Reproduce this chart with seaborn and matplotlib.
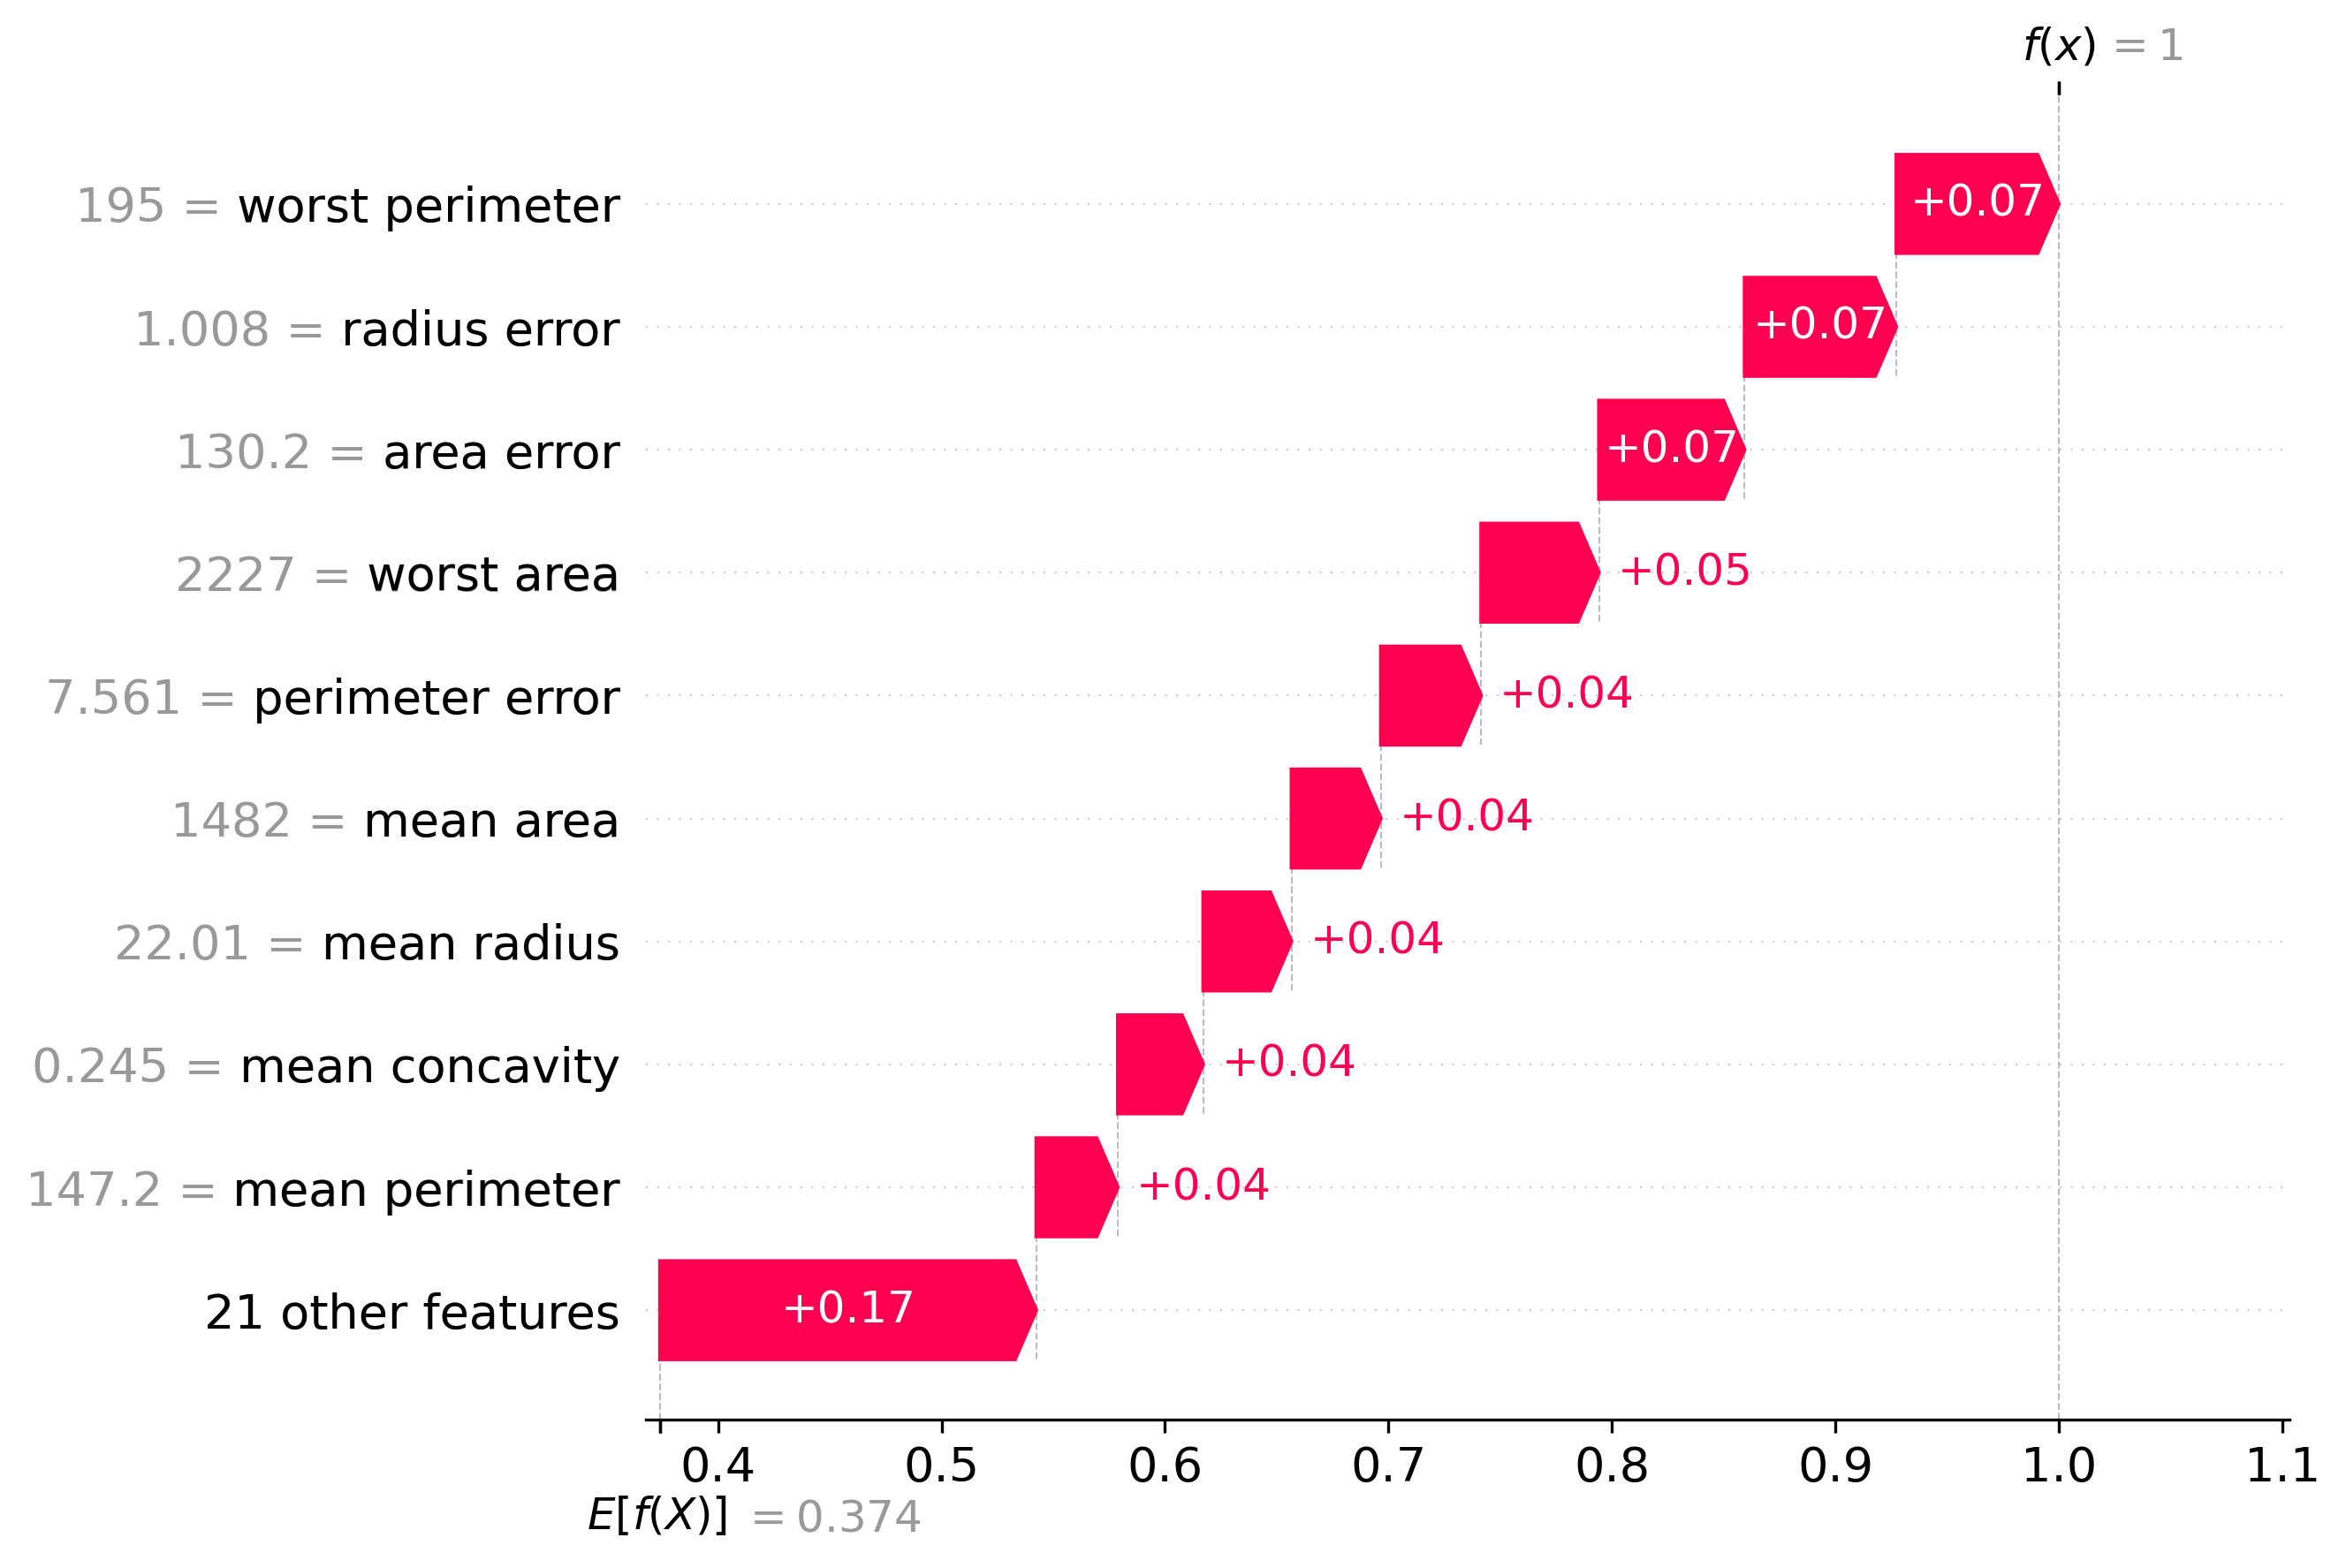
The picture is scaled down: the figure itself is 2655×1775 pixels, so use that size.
import numpy as np
import matplotlib
matplotlib.use("Agg")
import matplotlib.pyplot as plt
import matplotlib.transforms as mtrans
import seaborn as sns

# ---------------- data ----------------
feature_names = ["worst perimeter", "radius error", "area error", "worst area",
                 "perimeter error", "mean area", "mean radius", "mean concavity",
                 "mean perimeter", "21 other features"]
feature_values = ["195", "1.008", "130.2", "2227", "7.561", "1482", "22.01",
                  "0.245", "147.2", None]
shap_values = [0.0727, 0.0679, 0.0652, 0.0527, 0.0449, 0.0400, 0.0395,
               0.0382, 0.0365, 0.1684]
base_value = 0.374
x_ticks = [0.4, 0.5, 0.6, 0.7, 0.8, 0.9, 1.0, 1.1]


def format_value(s, fmt):
    s = fmt % s
    if "." in s:
        s = s.rstrip("0").rstrip(".")
    if s.startswith("-"):
        s = "\u2212" + s[1:]
    return s


sns.set_style("ticks", rc={"axes.edgecolor": "black", "xtick.color": "black",
                           "ytick.color": "black", "text.color": "black",
                           "axes.labelcolor": "black"})
plt.rcParams["font.family"] = ["DejaVu Sans"]

RED = (1.0, 0.0, 0.31796)
GRAY = "#999999"

fig = plt.figure(figsize=(8.85, 5.9167), dpi=300)
ax = fig.add_axes([0.27533, 0.094648, 0.70056, 0.84507])

n = len(feature_names)
rows = np.arange(n)[::-1].astype(float)
fx = base_value + sum(shap_values)

lefts = np.zeros(n)
acc = base_value
for i in range(n - 1, -1, -1):
    lefts[i] = acc
    acc += shap_values[i]

ax.set_xlim(0.3677, 1.1032)
ax.set_ylim(-0.89, n - 1 + 0.89)

bar_width = 0.8
xlen = ax.get_xlim()[1] - ax.get_xlim()[0]
bbox = ax.get_window_extent().transformed(fig.dpi_scale_trans.inverted())
bbox_to_xscale = xlen / bbox.width
hl_scaled = bbox_to_xscale * 0.08

# row guide lines
for r in rows:
    ax.axhline(r, color="#cccccc", lw=0.5, dashes=(1, 5), zorder=-1)

renderer = fig.canvas.get_renderer()
for i in range(n):
    y = rows[i]
    d = shap_values[i]
    arrow_obj = ax.arrow(lefts[i], y, max(d - hl_scaled, 0.000001), 0,
                         head_length=min(d, hl_scaled), color=RED,
                         width=bar_width, head_width=bar_width)
    if i < n - 1:
        ax.plot([lefts[i], lefts[i]], [y + 0.4, y - 1 - 0.4], color="#bbbbbb",
                linestyle="--", linewidth=0.5, zorder=-1)
    txt = ax.text(lefts[i] + 0.5 * d, y, format_value(d, "%+0.02f"),
                  ha="center", va="center", color="white", fontsize=12)
    tb = txt.get_window_extent(renderer=renderer)
    ab = arrow_obj.get_window_extent(renderer=renderer)
    if tb.width > ab.width:
        txt.remove()
        ax.text(lefts[i] + (5 / 72) * bbox_to_xscale + d, y,
                format_value(d, "%+0.02f"), ha="left", va="center",
                color=RED, fontsize=12)

ax.axvline(base_value, 0, 1 / n, color="#bbbbbb", linestyle="--", linewidth=0.5, zorder=-1)
ax.axvline(fx, 0, 1, color="#bbbbbb", linestyle="--", linewidth=0.5, zorder=-1)

# y labels: grey value part with black name overlaid
gray_labels = [f"{v} = {nm}" if v is not None else nm
               for v, nm in zip(feature_values, feature_names)]
black_labels = [lab.split("=")[-1] for lab in gray_labels]
ax.set_yticks(list(rows) + list(rows + 1e-8))
ax.set_yticklabels(gray_labels + black_labels, fontsize=13)
ytl = ax.yaxis.get_majorticklabels()
for i in range(n):
    ytl[i].set_color(GRAY)
ax.yaxis.set_ticks_position("none")

ax.set_xticks(x_ticks)
ax.tick_params(axis="x", labelsize=13)
sns.despine(ax=ax, left=True, top=True, right=True)

# E[f(X)] marker
ax2 = ax.twiny()
ax2.set_xlim(ax.get_xlim())
ax2.xaxis.tick_bottom()
ax2.set_xticks([base_value, base_value + 1e-8])
ax2.set_xticklabels(["\n$E[f(X)]$", "\n$ = " + format_value(base_value, "%0.03f") + "$"],
                    fontsize=12, ha="left")
for sp in ax2.spines.values():
    sp.set_visible(False)
tl2 = ax2.xaxis.get_majorticklabels()
tl2[0].set_transform(tl2[0].get_transform() +
                     mtrans.ScaledTranslation(-20 / 72., 0, fig.dpi_scale_trans))
tl2[1].set_transform(tl2[1].get_transform() +
                     mtrans.ScaledTranslation(22 / 72., -1 / 72., fig.dpi_scale_trans))
tl2[1].set_color(GRAY)

# f(x) marker
ax3 = ax.twiny()
ax3.set_xlim(ax.get_xlim())
ax3.xaxis.tick_top()
ax3.set_xticks([fx, fx + 1e-8])
ax3.set_xticklabels(["$f(x)$", "$ = " + format_value(fx, "%0.03f") + "$"],
                    fontsize=12, ha="left")
for sp in ax3.spines.values():
    sp.set_visible(False)
tl3 = ax3.xaxis.get_majorticklabels()
tl3[0].set_transform(tl3[0].get_transform() +
                     mtrans.ScaledTranslation(-10 / 72., 0, fig.dpi_scale_trans))
tl3[1].set_transform(tl3[1].get_transform() +
                     mtrans.ScaledTranslation(12 / 72., 0, fig.dpi_scale_trans))
tl3[1].set_color(GRAY)

fig.savefig("out.png", dpi=300)
